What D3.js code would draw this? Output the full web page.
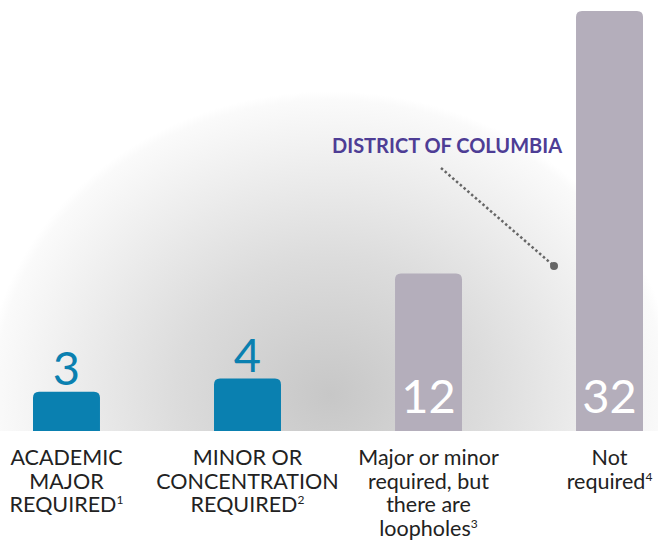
<!DOCTYPE html>
<html>
<head>
<meta charset="utf-8">
<script src="https://cdn.jsdelivr.net/npm/d3@7"></script>
<style>
  body { margin: 0; background: #fff; }
  svg { display: block; font-family: Lato, "Open Sans", sans-serif; }
</style>
</head>
<body>
<div id="chart"></div>
<script>
const categories = ["academic", "minor", "loopholes", "none"];
const values = [3, 4, 12, 32];
const labelLines = [
  ["ACADEMIC", "MAJOR", "REQUIRED|1"],
  ["MINOR OR", "CONCENTRATION", "REQUIRED|2"],
  ["Major or minor", "required, but", "there are", "loopholes|3"],
  ["Not", "required|4"]
];
const highlighted = ["academic", "minor"];
const annotationText = "DISTRICT OF COLUMBIA";

const width = 658;
const height = 540;
const baseY = 431;

const svg = d3
  .select("#chart")
  .append("svg")
  .attr("width", width)
  .attr("height", height);

const defs = svg.append("defs");
const grad = defs
  .append("radialGradient")
  .attr("id", "bg-grad")
  .attr("gradientUnits", "userSpaceOnUse")
  .attr("cx", 330)
  .attr("cy", 395)
  .attr("r", 345)
  .attr("gradientTransform", "translate(330,395) scale(1,0.88) translate(-330,-395)");
grad.append("stop").attr("offset", "0%").attr("stop-color", "#c7c7c7");
grad.append("stop").attr("offset", "45%").attr("stop-color", "#dcdcdc");
grad.append("stop").attr("offset", "97%").attr("stop-color", "#fafafa");
grad.append("stop").attr("offset", "100%").attr("stop-color", "#ffffff");

svg
  .append("rect")
  .attr("x", 0)
  .attr("y", 0)
  .attr("width", width)
  .attr("height", baseY)
  .attr("fill", "url(#bg-grad)");

const x = d3.scaleBand().domain(categories).range([33, 643]).paddingInner(0.63);
const y = d3.scaleLinear().domain([0, 32]).range([baseY, 11]);

const colorOf = (c) => (highlighted.includes(c) ? "#0a80b0" : "#b4aebb");

// bar path with rounded top corners only
function barPath(x0, y0, w, h, r) {
  return `M${x0},${y0 + h}V${y0 + r}Q${x0},${y0} ${x0 + r},${y0}H${x0 + w - r}Q${x0 + w},${y0} ${x0 + w},${y0 + r}V${y0 + h}Z`;
}

const data = categories.map((c, i) => ({ cat: c, value: values[i], lines: labelLines[i] }));

svg
  .selectAll("path.bar")
  .data(data)
  .join("path")
  .attr("class", "bar")
  .attr("d", (d) => barPath(x(d.cat), y(d.value), x.bandwidth(), baseY - y(d.value), 6))
  .attr("fill", (d) => colorOf(d.cat));

// value labels
svg
  .selectAll("text.val")
  .data(data)
  .join("text")
  .attr("class", "val")
  .attr("x", (d) => x(d.cat) + x.bandwidth() / 2)
  .attr("y", (d) => (highlighted.includes(d.cat) ? y(d.value) - 7 : baseY - 18))
  .attr("text-anchor", "middle")
  .attr("font-size", 47)
  .attr("fill", (d) => (highlighted.includes(d.cat) ? "#0a80b0" : "#ffffff"))
  .text((d) => d.value);

// category labels
const labels = svg
  .selectAll("text.cat")
  .data(data)
  .join("text")
  .attr("class", "cat")
  .attr("text-anchor", "middle")
  .attr("font-size", 21.5)
  .attr("fill", "#222");

labels.each(function (d) {
  const t = d3.select(this);
  const cx = x(d.cat) + x.bandwidth() / 2;
  d.lines.forEach((line, i) => {
    const [txt, sup] = line.split("|");
    t.append("tspan").attr("x", cx).attr("y", 465 + i * 23.5).text(txt);
    if (sup) {
      t.append("tspan")
        .attr("font-size", 12)
        .attr("dy", -8)
        .text(sup);
    }
  });
});

// annotation
svg
  .append("text")
  .attr("x", 332)
  .attr("y", 153)
  .attr("font-size", 20)
  .attr("font-weight", "bold")
  .attr("fill", "#4e3d95")
  .text(annotationText);

const dcX = x("none") - 22;
const dcY = y(values[3]) + 255;
svg
  .append("line")
  .attr("x1", 441)
  .attr("y1", 168)
  .attr("x2", dcX)
  .attr("y2", dcY)
  .attr("stroke", "#666")
  .attr("stroke-width", 2.5)
  .attr("stroke-dasharray", "2.5,2.5");
svg
  .append("circle")
  .attr("cx", dcX)
  .attr("cy", dcY)
  .attr("r", 4)
  .attr("fill", "#666");
</script>
</body>
</html>
